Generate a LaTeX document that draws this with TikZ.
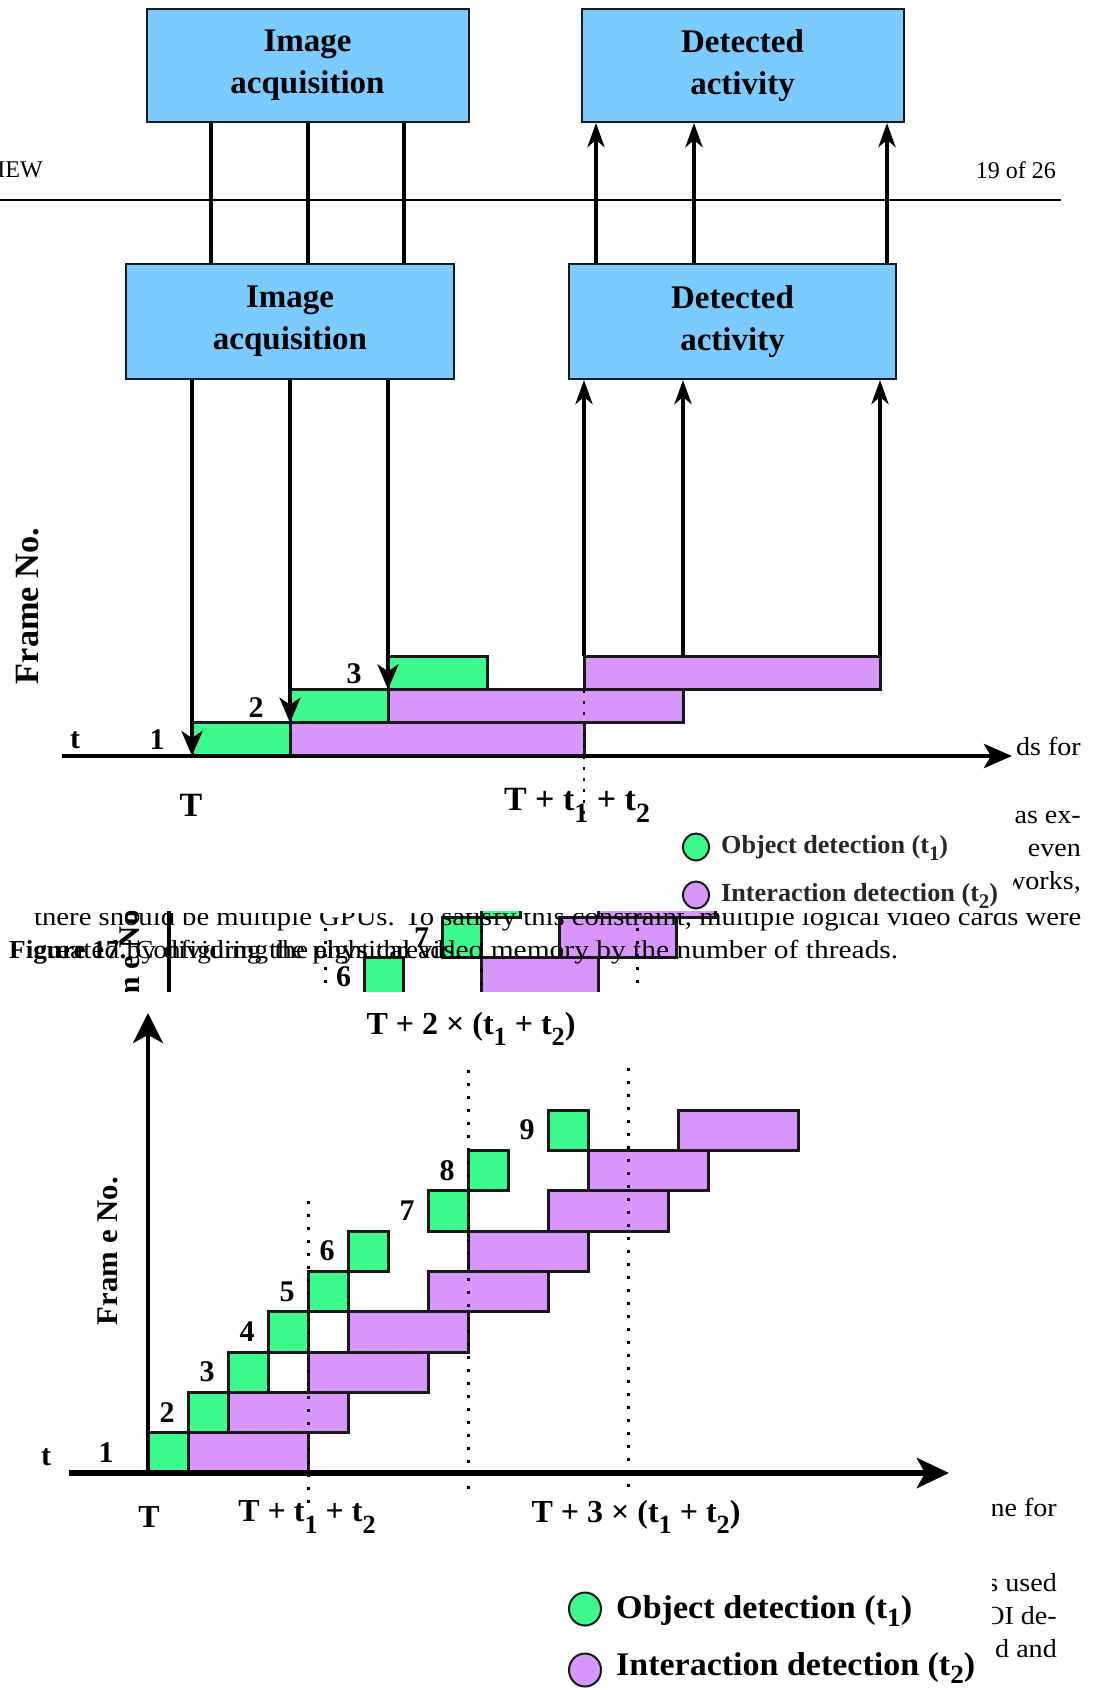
\documentclass[tikz,border=0pt]{standalone}
\usepackage{fontspec}
\setmainfont{Liberation Serif}
\usepackage{graphicx}
\usetikzlibrary{arrows.meta}

\definecolor{boxblue}{RGB}{124,203,255}
\definecolor{odgreen}{RGB}{60,250,140}
\definecolor{idpurple}{RGB}{217,150,250}
\definecolor{edge}{RGB}{25,25,25}
\definecolor{legink}{RGB}{40,40,40}

% stretch a piece of text horizontally to a given width (in pt)
\newsavebox\fitbox
\newlength\fitlen
\newcommand\fitw[2]{\sbox\fitbox{#2}\setlength\fitlen{\wd\fitbox}%
  \pgfmathsetmacro\fitratio{#1/\fitlen}\scalebox{\fitratio}[1]{\usebox\fitbox}}
% lowered subscripts used in the time labels and in the legends
\newcommand\lsub[1]{\raisebox{-0.36em}{\scalebox{0.82}{#1}}}
\newcommand\legsub[1]{\raisebox{-0.26em}{\scalebox{0.8}{#1}}}
\newcommand\bodyw[1]{\scalebox{1.08}[1]{#1}}

\tikzset{
  blockbox/.style={draw=edge, line width=2pt, fill=boxblue, minimum width=322pt,
    minimum height=113pt, inner sep=0pt, align=center,
    font=\fontsize{33}{42}\selectfont\bfseries},
  link/.style={line width=4.5pt},
  uplink/.style={line width=4.5pt, -{Stealth[length=24pt,width=17pt,inset=7pt]}},
  downlink/.style={line width=4pt, -{Stealth[length=25pt,width=21pt,inset=7pt]}},
  gbar/.style={draw=edge, line width=3pt, fill=odgreen},
  pbar/.style={draw=edge, line width=3pt, fill=idpurple},
  dotline/.style={line width=3pt, dash pattern=on 3pt off 10pt},
  numlabel/.style={inner sep=0pt, font=\fontsize{30}{32}\selectfont\bfseries},
  timelabel/.style={inner sep=0pt, font=\fontsize{34}{38}\selectfont\bfseries},
  lowtime/.style={inner sep=0pt, font=\fontsize{32}{36}\selectfont\bfseries},
  legdot/.style={draw=edge, line width=2pt},
  bodytxt/.style={inner sep=0pt, font=\fontsize{26}{30}\selectfont},
  headtxt/.style={inner sep=0pt, font=\fontsize{24}{28}\selectfont},
}

% frame timeline with nine frames (object detection + interaction detection)
\newcommand\ganttchart{%
  \foreach \k/\g/\p in {1/0/1,2/1/2,3/2/4,4/3/5,5/4/7,6/5/8,7/7/10,8/8/11,9/10/13.25}{%
    \draw[pbar] ({148+40*\p},{1473-40.33*\k}) rectangle ({268+40*\p},{1473-40.33*(\k-1)});
    \draw[gbar] ({148+40*\g},{1473-40.33*\k}) rectangle ({188+40*\g},{1473-40.33*(\k-1)});
  }
  \foreach \k/\g in {2/1,3/2,4/3,5/4,6/5,7/7,8/8,9/10}{%
    \node[numlabel] (fr\k) at ({127+40*\g},{1473-40.33*(\k-0.5)}) {\k};
  }
  \node[numlabel] (fr1) at (106,1453) {1};
  \node[numlabel] (tl) at (46,1457) {t};
  \draw[dotline] (308,1201) -- (308,1503);
  \draw[dotline] (468,1070) -- (468,1492);
  \draw[dotline] (628,1068) -- (628,1495);
  \coordinate (origin) at (148,1473);
  \coordinate (ytip) at (148,1013);
  \coordinate (xstart) at (69,1473);
  \coordinate (xtip) at (949,1473);
  \draw[line width=4pt, -{Stealth[length=30pt,width=30pt,inset=8pt]}] (origin) -- (ytip);
  \draw[line width=6pt, -{Stealth[length=32pt,width=30pt,inset=8pt]}] (xstart) -- (xtip);
  \node[rotate=90, inner sep=0pt, font=\fontsize{30}{34}\selectfont\bfseries] (fno) at (108,1251)
    {\fitw{148}{Fram e No.}};
  \node[lowtime] (lT) at (149,1517) {T};
  \node[lowtime] (lT1) at (307,1517) {T + t\lsub{1} + t\lsub{2}};
  \node[lowtime] (lT2) at (471,1029) {T + 2 × (t\lsub{1} + t\lsub{2})};
  \node[lowtime] (lT3) at (636,1517) {T + 3 × (t\lsub{1} + t\lsub{2})};
}

\begin{document}
\begin{tikzpicture}[x=1pt,y=-1pt]
\useasboundingbox (0,0) rectangle (1098,1690);
\fill[white] (0,0) rectangle (1098,1690);

% ---- running header of the page ----
\node[headtxt, anchor=base east] (hdrL) at (43,177) {REVIEW};
\node[headtxt, anchor=base east] (hdrR) at (1056,178) {19 of 26};
\coordinate (ruleL) at (0,200);
\coordinate (ruleR) at (1061,200);
\draw[line width=2.5pt] (ruleL) -- (ruleR);

% ---- upper pipeline: acquisition and detected activity ----
\node[blockbox] (acqA) at (307.5,65.5) {\raisebox{-4pt}{\parbox{300pt}{\centering Image\\acquisition}}};
\node[blockbox] (detA) at (742.5,65.5) {\raisebox{-4pt}{\parbox{300pt}{\centering Detected\\activity}}};
\node[blockbox, minimum width=328pt, minimum height=115pt] (acqB) at (290,321.5)
  {\raisebox{-3pt}{\parbox{300pt}{\centering Image\\acquisition}}};
\node[blockbox, minimum width=327pt, minimum height=115pt] (detB) at (732.5,321.5)
  {\raisebox{-3pt}{\parbox{300pt}{\centering Detected\\activity}}};

\foreach \x [count=\i] in {211,308,404}{\coordinate (xa\i) at (\x,0);}
\foreach \x [count=\i] in {596,694,887}{\coordinate (xd\i) at (\x,0);}
\foreach \i in {1,2,3}{
  \draw[link] (acqA.south -| xa\i) -- (acqB.north -| xa\i);
  \draw[uplink] (detB.north -| xd\i) -- (detA.south -| xd\i);
}

% ---- upper timeline ----
\draw[gbar] (192,722.7) rectangle (290,756);
\draw[pbar] (290,722.7) rectangle (584,756);
\draw[gbar] (290,689.4) rectangle (388,722.7);
\draw[pbar] (388,689.4) rectangle (683,722.7);
\draw[gbar] (388,656) rectangle (487,689.4);
\draw[pbar] (584,656) rectangle (880,689.4);

\coordinate (f1) at (192,756);
\coordinate (f2) at (290,722.7);
\coordinate (f3) at (388,689.4);
\foreach \i in {1,2,3}{\draw[downlink] (acqB.south -| f\i) -- (f\i);}
\coordinate (e1) at (584,656);
\coordinate (e2) at (683,656);
\coordinate (e3) at (880,656);
\foreach \i in {1,2,3}{\draw[uplink] (e\i) -- (detB.south -| e\i);}

\coordinate (dotTop) at (584,690);
\coordinate (dotBot) at (584,820);
\draw[dotline, line width=2.5pt, dash pattern=on 3pt off 8pt] (dotTop) -- (dotBot);

\coordinate (taxL) at (62,756);
\coordinate (taxR) at (1012,756);
\draw[line width=4.5pt, -{Stealth[length=28pt,width=24pt,inset=7pt]}] (taxL) -- (taxR);

\node[numlabel] (ut) at (75,740) {t};
\node[numlabel] (u1) at (157,740) {1};
\node[numlabel] (u2) at (256,708) {2};
\node[numlabel] (u3) at (354,674) {3};
\node[timelabel] (uT) at (191,805) {T};
\node[timelabel] (uT1) at (577,805) {T + t\lsub{1} + t\lsub{2}};
\node[rotate=90, inner sep=0pt, font=\fontsize{34}{38}\selectfont\bfseries] (ufno) at (28,606)
  {\fitw{156}{Frame No.}};

% upper legend
\draw[legdot, fill=odgreen] (696,847) ellipse [x radius=13, y radius=13.5];
\draw[legdot, fill=idpurple] (696,895) ellipse [x radius=13, y radius=13.5];
\node[anchor=west, inner sep=0pt, text=legink, font=\fontsize{26}{30}\selectfont\bfseries] (legA1) at (721,848)
  {\fitw{227}{Object detection (t\legsub{1})}};
\node[anchor=west, inner sep=0pt, text=legink, font=\fontsize{26}{30}\selectfont\bfseries] (legA2) at (721,896)
  {\fitw{277}{Interaction detection (t\legsub{2})}};

% ---- strip of a second copy of the chart, partly hidden ----
\begin{scope}
  \clip (0,911) rectangle (1098,991);
  \begin{scope}[shift={(24.7,-243)}, scale=0.975]
    \ganttchart
  \end{scope}
\end{scope}

% ---- body text around the figures ----
\begin{scope}
  \clip (1013,700) rectangle (1098,905);
  \node[bodytxt, anchor=base east] (w1) at (1081,755) {\bodyw{ds for}};
  \node[bodytxt, anchor=base east] (w2) at (1081,823) {\bodyw{as ex-}};
  \node[bodytxt, anchor=base east] (w3) at (1081,856) {\bodyw{even}};
  \node[bodytxt, anchor=base east] (w4) at (1081,889) {\bodyw{works,}};
\end{scope}
\begin{scope}
  \clip (0,913) rectangle (1098,1000);
  \node[bodytxt, anchor=base west] (para1) at (34,925)
    {\fitw{1047}{there should be multiple GPUs. To satisfy this constraint, multiple logical video cards were}};
\end{scope}
\node[bodytxt, anchor=base west] (capB) at (9,958)
  {\fitw{452}{\textbf{Figure 17.} Configuring the eight threads.}};
\node[bodytxt, anchor=base west] (para2) at (34,958)
  {\fitw{864}{created by dividing the physical video memory by the number of threads.}};

% ---- lower chart ----
\ganttchart

% lower legend
\draw[legdot, fill=odgreen] (585,1609) ellipse [x radius=16, y radius=16.5];
\draw[legdot, fill=idpurple] (585,1670) ellipse [x radius=16, y radius=16.5];
\node[anchor=west, inner sep=0pt, font=\fontsize{33}{36}\selectfont\bfseries] (legB1) at (616,1611)
  {\fitw{296}{Object detection (t\legsub{1})}};
\node[anchor=west, inner sep=0pt, font=\fontsize{33}{36}\selectfont\bfseries] (legB2) at (616,1668)
  {\fitw{359}{Interaction detection (t\legsub{2})}};

\begin{scope}
  \clip (992,1480) rectangle (1098,1690);
  \node[bodytxt, anchor=base east] (v1) at (1057,1516) {\bodyw{ne for}};
  \node[bodytxt, anchor=base east] (v2) at (1057,1591) {\bodyw{s used}};
  \node[bodytxt, anchor=base east] (v3) at (1057,1624) {\bodyw{OI de-}};
  \node[bodytxt, anchor=base east] (v4) at (1057,1657) {\bodyw{d and}};
\end{scope}
\end{tikzpicture}
\end{document}
